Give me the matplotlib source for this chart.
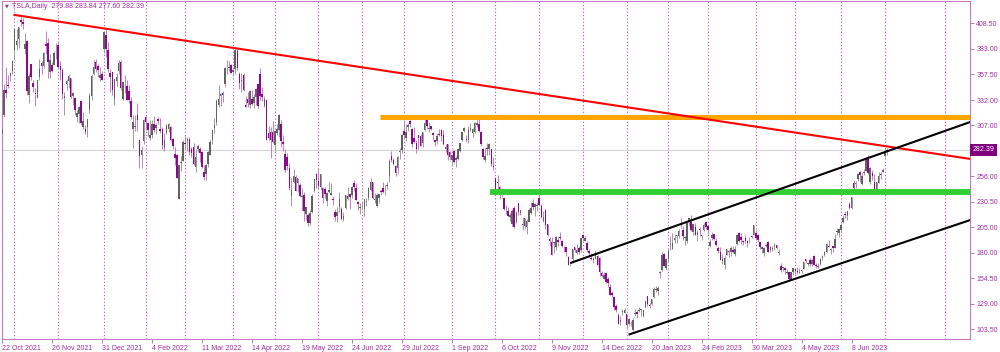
import numpy as np
import matplotlib
matplotlib.use('Agg')
import matplotlib.pyplot as plt
import matplotlib.transforms as mtransforms

# trading bars per month, Oct 2021 (from 22 Oct) .. Jul 2023
month_bars = [6, 21, 22, 20, 19, 23, 20, 21, 21, 20, 23, 21, 21, 21, 21, 20, 19, 23, 19, 22, 21, 2]

opens = [
    298.5, 316.8, 341.6, 346.6, 356.1, 360.6,
    381.7, 386.5, 392.4, 411.5, 409.3, 383.3, 391.2, 336.8, 367.6, 349.2, 339.2, 334.4, 354.5, 368.9, 366.3, 387.4, 389.2, 360.1, 366.5, 367.0, 381.5,
    386.9, 366.4, 361.6, 333.8, 348.1, 350.9, 353.5, 336.3, 333.7, 315.0, 317.7, 331.5, 304.9, 303.6, 305.6, 321.9, 335.6, 357.9, 369.8, 366.2, 353.8, 357.8,
    382.6, 396.5, 382.2, 359.0, 360.1, 333.3, 351.2, 360.7, 369.7, 333.4, 344.0, 346.3, 341.3, 331.2, 302.7, 304.7, 317.5, 291.7, 277.2, 290.9,
    314.6, 309.4, 294.3, 297.0, 307.9, 303.7, 312.8, 302.7, 303.1, 284.4, 299.3, 303.6, 304.7, 293.0, 278.0, 276.8, 233.5, 269.7, 271.7,
    289.3, 290.7, 292.9, 283.0, 285.4, 264.9, 283.1, 283.4, 280.5, 260.2, 258.4, 268.4, 277.7, 292.2, 303.9, 310.1, 326.6, 336.1, 339.2, 347.8, 367.2, 363.9, 367.2,
    360.4, 363.1, 380.5, 357.8, 350.8, 357.3, 326.8, 332.6, 327.1, 333.3, 329.1, 335.5, 347.8, 358.2, 338.3, 326.3, 331.8, 299.5, 299.9, 300.5,
    287.0, 299.3, 302.3, 307.8, 289.7, 278.7, 275.5, 264.2, 236.8, 250.4, 255.3, 249.5, 247.3, 235.3, 237.0, 218.2, 217.8, 209.8, 220.3, 241.7, 257.9,
    251.8, 245.5, 244.4, 243.4, 231.4, 240.4, 237.5, 233.3, 220.0, 216.2, 225.1, 223.6, 213.4, 224.6, 233.8, 237.9, 237.5, 249.4, 244.5, 230.5, 224.5,
    227.0, 223.0, 230.8, 233.9, 242.3, 250.6, 232.8, 226.4, 234.1, 241.2, 244.0, 245.0, 246.8, 255.8, 276.2, 272.2, 266.5, 263.8, 280.7, 282.5,
    301.3, 294.0, 305.0, 311.0, 302.7, 294.3, 289.5, 297.1, 296.5, 289.4, 301.8, 311.7, 303.4, 306.0, 299.0, 291.9, 291.5, 297.6, 302.4, 297.4, 282.8, 287.9, 280.6,
    272.6, 281.1, 272.7, 273.1, 281.3, 291.7, 300.7, 292.9, 292.2, 301.8, 299.6, 300.1, 306.9, 308.3, 299.9, 283.1, 271.8, 283.8, 283.1, 282.8, 266.2,
    254.5, 250.5, 245.0, 239.4, 233.9, 223.9, 221.0, 215.3, 208.3, 224.0, 210.0, 229.5, 219.8, 208.3, 206.4, 205.8, 210.1, 219.4, 229.8, 225.4, 226.2,
    234.0, 226.0, 211.4, 222.6, 208.7, 194.0, 190.8, 189.9, 186.0, 192.8, 195.9, 191.5, 184.0, 185.1, 175.9, 168.6, 173.6, 185.1, 180.0, 185.0, 182.4,
    197.1, 191.8, 189.4, 181.2, 175.0, 172.2, 173.8, 176.1, 174.9, 159.3, 153.4, 159.6, 154.0, 146.1, 139.3, 136.0, 126.4, 117.5, 110.4, 120.4, 120.0,
    118.5, 109.1, 110.5, 103.0, 119.0, 121.1, 122.1, 122.6, 116.6, 125.7, 136.6, 127.3, 128.7, 135.9, 143.0, 141.9, 160.0, 162.4, 178.1, 164.6,
    173.9, 187.3, 184.0, 193.0, 196.4, 196.1, 207.8, 202.2, 194.4, 191.9, 211.8, 210.8, 200.0, 205.0, 197.9, 203.9, 196.3, 202.0, 210.6,
    206.2, 186.7, 194.8, 198.5, 191.4, 185.0, 180.3, 171.2, 167.5, 177.3, 180.8, 180.4, 183.0, 178.1, 188.3, 199.3, 195.3, 191.7, 194.4, 192.0, 193.1, 195.6, 197.5,
    199.9, 197.3, 190.5, 183.1, 179.9, 186.7, 190.7, 183.0, 184.0, 186.3, 187.2, 179.1, 166.2, 164.8, 164.7, 159.8, 160.3, 152.6, 160.9,
    163.2, 161.9, 160.0, 162.7, 164.0, 173.7, 169.0, 172.6, 168.7, 176.1, 167.7, 165.7, 168.4, 174.2, 177.2, 180.7, 186.2, 182.6, 186.5, 184.6, 200.1, 199.8,
    202.6, 210.2, 217.8, 216.1, 228.0, 224.2, 249.1, 247.9, 253.5, 260.2, 248.4, 258.9, 261.5, 275.1, 250.8, 259.3, 250.1, 243.2, 249.7, 258.0, 260.6,
    276.5, 279.88,
]

highs = [
    303.3, 348.3, 365.0, 357.0, 360.3, 371.7,
    403.3, 402.9, 405.1, 414.5, 413.3, 399.0, 391.5, 359.4, 368.3, 351.5, 344.0, 352.4, 373.2, 370.7, 379.6, 400.7, 393.5, 377.6, 369.6, 380.9, 389.3,
    391.0, 371.0, 363.5, 340.5, 352.6, 357.5, 354.2, 340.3, 335.0, 322.1, 326.3, 331.7, 320.2, 307.2, 313.2, 338.6, 357.7, 372.3, 373.0, 368.0, 365.2, 360.7,
    400.4, 403.0, 390.1, 362.7, 360.3, 353.0, 359.0, 371.9, 371.9, 350.7, 356.9, 351.6, 347.2, 334.9, 317.1, 317.1, 329.2, 293.3, 285.8, 312.7,
    315.7, 310.5, 312.3, 312.2, 315.9, 308.8, 315.0, 314.3, 305.0, 299.4, 307.7, 309.5, 306.2, 293.9, 285.6, 278.4, 267.5, 275.9, 292.5,
    296.6, 295.5, 295.5, 285.2, 288.7, 283.3, 288.2, 284.8, 281.4, 267.7, 268.7, 281.2, 291.7, 302.6, 314.3, 332.6, 346.9, 338.9, 340.6, 365.0, 371.6, 371.3, 367.9,
    364.9, 383.3, 384.3, 359.7, 358.9, 359.1, 336.2, 340.4, 342.1, 342.1, 338.3, 344.4, 348.3, 364.1, 344.9, 336.2, 333.3, 306.0, 305.3, 311.5,
    302.1, 308.4, 318.5, 312.1, 296.8, 283.4, 279.0, 269.6, 254.3, 262.9, 257.0, 254.6, 249.5, 243.9, 240.5, 225.4, 219.0, 222.0, 238.4, 253.3, 259.6,
    264.1, 258.7, 245.0, 245.0, 240.7, 249.9, 249.8, 236.2, 223.1, 225.3, 240.4, 225.4, 220.9, 237.7, 245.8, 238.6, 246.1, 252.1, 249.8, 231.2, 229.5,
    230.2, 233.1, 234.6, 245.4, 254.8, 250.6, 239.6, 239.2, 238.7, 243.6, 250.5, 247.1, 250.7, 273.3, 280.8, 274.1, 267.3, 275.9, 284.4, 298.3,
    311.9, 307.8, 309.6, 313.6, 304.6, 305.2, 292.4, 297.5, 298.2, 300.2, 313.1, 314.7, 309.7, 306.5, 300.4, 292.4, 298.8, 303.6, 303.0, 302.0, 287.7, 288.5, 281.3,
    277.6, 282.4, 276.0, 283.8, 289.5, 299.9, 305.5, 297.4, 306.0, 309.1, 303.7, 309.8, 313.8, 313.8, 301.3, 284.5, 284.1, 288.7, 289.0, 283.7, 275.6,
    255.2, 257.5, 246.7, 244.6, 234.6, 227.0, 225.8, 219.3, 223.0, 226.3, 221.9, 229.8, 222.9, 215.5, 214.7, 213.5, 224.4, 230.6, 233.8, 228.9, 229.9,
    237.4, 227.9, 221.2, 223.8, 208.9, 195.2, 195.9, 191.0, 196.5, 195.7, 200.8, 192.6, 186.2, 185.2, 176.8, 170.9, 183.6, 185.2, 188.5, 186.4, 194.8,
    198.9, 196.3, 191.3, 183.7, 179.4, 175.2, 182.5, 177.4, 175.1, 161.6, 160.9, 161.0, 155.3, 148.5, 141.3, 136.6, 128.6, 119.7, 116.3, 123.6, 124.5,
    118.8, 114.6, 111.8, 114.4, 123.5, 122.8, 126.0, 124.1, 122.6, 131.7, 136.7, 130.0, 133.5, 145.4, 146.5, 146.4, 161.4, 180.7, 179.8, 174.3,
    183.8, 196.8, 199.0, 198.2, 197.5, 203.0, 214.0, 206.2, 196.3, 209.8, 214.7, 217.7, 208.4, 209.7, 202.0, 205.1, 197.7, 209.4, 211.2,
    207.2, 193.8, 200.5, 198.6, 194.2, 186.5, 185.2, 178.3, 177.4, 183.8, 182.3, 186.2, 186.4, 186.4, 198.0, 200.7, 199.3, 192.4, 197.4, 192.4, 195.3, 197.3, 207.8,
    202.7, 198.7, 190.7, 186.4, 185.1, 189.2, 191.6, 186.5, 186.3, 189.7, 187.7, 183.5, 169.7, 166.0, 165.7, 163.5, 160.7, 160.5, 165.0,
    163.3, 165.5, 165.0, 163.0, 170.8, 173.8, 169.8, 174.4, 173.6, 177.4, 169.8, 169.5, 174.5, 177.1, 182.0, 189.3, 193.0, 184.2, 186.8, 198.6, 204.5, 204.0,
    209.8, 217.3, 221.3, 221.9, 230.8, 235.2, 252.4, 251.0, 259.7, 261.6, 259.0, 263.6, 274.8, 277.0, 265.0, 262.5, 258.4, 250.4, 259.9, 260.7, 264.5,
    284.3, 283.84,
]

lows = [
    297.0, 314.7, 333.8, 343.6, 351.4, 357.7,
    372.9, 382.0, 384.2, 405.7, 402.7, 377.7, 337.2, 329.1, 351.6, 339.7, 326.2, 334.1, 351.8, 358.3, 364.2, 377.5, 354.2, 354.0, 360.3, 366.7, 372.7,
    363.6, 352.2, 333.4, 316.8, 342.3, 344.3, 334.1, 327.5, 317.1, 310.0, 309.4, 307.3, 303.0, 297.8, 295.4, 319.0, 332.5, 356.9, 359.5, 354.7, 351.1, 351.5,
    378.7, 374.4, 360.3, 340.2, 336.7, 326.7, 346.3, 357.7, 342.2, 332.5, 338.7, 331.7, 329.2, 313.4, 283.8, 301.1, 301.1, 264.0, 264.2, 287.8,
    301.7, 296.5, 291.8, 293.7, 300.1, 298.3, 307.7, 299.6, 283.6, 281.0, 297.8, 300.4, 290.9, 283.0, 267.0, 254.5, 233.0, 260.8, 271.6,
    283.7, 281.4, 277.5, 275.0, 267.4, 260.7, 280.0, 270.1, 264.7, 252.0, 252.2, 264.9, 276.9, 288.5, 299.2, 306.9, 325.4, 326.4, 329.9, 345.4, 357.7, 361.3, 359.1,
    355.5, 357.5, 361.5, 342.6, 340.5, 340.8, 324.9, 325.5, 324.4, 327.4, 324.5, 327.1, 324.3, 332.1, 331.3, 324.7, 291.7, 292.5, 273.9, 289.3,
    281.0, 297.0, 295.1, 285.5, 281.6, 260.7, 262.7, 242.2, 226.7, 249.7, 241.5, 240.6, 235.4, 221.3, 211.0, 212.4, 206.9, 207.7, 219.6, 240.7, 244.6,
    243.7, 242.1, 229.3, 234.3, 226.7, 238.9, 237.4, 227.1, 211.9, 210.7, 220.6, 212.7, 211.2, 223.4, 232.2, 223.9, 233.9, 241.7, 232.5, 222.3, 218.9,
    222.1, 216.2, 226.4, 232.2, 241.1, 233.6, 229.3, 225.2, 229.3, 236.9, 239.6, 236.9, 243.5, 250.5, 270.4, 267.4, 256.3, 258.9, 273.2, 279.1,
    293.8, 291.5, 301.2, 305.0, 285.5, 289.1, 279.4, 283.4, 285.8, 285.0, 301.2, 302.9, 300.0, 301.9, 292.5, 286.3, 287.9, 296.5, 291.6, 287.5, 280.7, 272.7, 271.8,
    266.1, 269.1, 265.7, 272.3, 279.8, 291.3, 300.4, 290.4, 289.3, 300.7, 295.6, 299.6, 305.6, 300.6, 285.8, 272.8, 270.3, 277.5, 277.6, 265.8, 262.5,
    241.0, 242.0, 233.3, 235.4, 222.0, 218.0, 215.0, 211.5, 206.2, 204.2, 209.5, 217.3, 217.8, 202.0, 203.8, 198.6, 210.0, 218.2, 222.9, 216.4, 221.9,
    227.3, 214.8, 210.1, 203.1, 196.7, 186.8, 177.1, 180.0, 182.6, 186.3, 192.1, 185.7, 180.6, 176.6, 167.5, 166.2, 169.9, 180.6, 179.0, 178.8, 180.6,
    191.8, 191.1, 180.6, 175.3, 172.2, 169.1, 173.4, 167.5, 156.9, 155.3, 153.3, 150.0, 145.8, 137.7, 135.9, 122.3, 121.0, 108.8, 108.2, 117.7, 119.8,
    104.6, 107.5, 107.2, 101.8, 117.1, 114.9, 120.5, 117.0, 115.6, 125.0, 127.0, 124.3, 127.4, 134.3, 140.6, 138.1, 154.8, 161.2, 166.5, 162.8,
    169.9, 182.6, 183.7, 189.9, 189.6, 194.3, 204.8, 192.9, 187.6, 189.4, 206.1, 201.8, 197.5, 197.2, 191.8, 196.3, 192.8, 201.3, 203.8,
    198.5, 186.0, 192.9, 192.3, 186.1, 180.0, 172.5, 168.4, 163.9, 177.1, 176.0, 176.1, 179.8, 176.4, 188.0, 191.0, 188.7, 187.2, 189.9, 185.4, 189.4, 194.4, 197.2,
    192.2, 190.3, 183.8, 179.7, 176.1, 185.7, 180.3, 180.9, 182.0, 182.7, 183.6, 177.7, 160.6, 161.3, 158.6, 158.8, 153.1, 152.4, 157.3,
    158.8, 158.9, 159.9, 159.7, 163.5, 169.2, 166.6, 166.7, 166.8, 167.2, 164.6, 164.4, 167.2, 172.5, 176.3, 180.1, 185.3, 178.2, 180.6, 184.5, 197.5, 195.1,
    199.4, 209.8, 214.5, 212.5, 223.2, 223.0, 242.0, 244.6, 251.3, 250.5, 247.3, 257.2, 261.1, 257.8, 248.3, 252.8, 240.7, 240.9, 248.9, 253.6, 259.9,
    275.1, 277.60,
]

closes = [
    303.2, 341.6, 339.5, 346.0, 359.0, 371.3,
    402.9, 390.7, 404.6, 410.0, 407.4, 387.6, 341.2, 356.0, 354.5, 344.5, 337.8, 351.6, 363.0, 365.5, 379.0, 385.6, 369.7, 372.0, 360.6, 379.0, 381.6,
    365.0, 361.5, 338.3, 336.3, 350.6, 356.3, 334.6, 339.0, 322.1, 319.5, 325.3, 309.0, 310.9, 300.0, 312.8, 336.3, 355.7, 364.6, 362.8, 362.0, 356.8, 352.3,
    399.9, 383.2, 362.7, 354.9, 342.3, 352.7, 354.8, 368.7, 343.9, 349.9, 343.5, 331.9, 332.1, 314.6, 310.0, 306.1, 312.5, 276.4, 282.1, 312.2,
    310.4, 301.9, 297.0, 307.8, 302.4, 307.3, 310.7, 301.5, 286.7, 291.9, 307.5, 307.8, 292.1, 285.7, 273.8, 254.7, 266.9, 270.0, 290.1,
    288.1, 293.3, 279.8, 279.4, 268.2, 274.8, 286.3, 279.4, 265.1, 255.5, 267.3, 280.1, 290.5, 301.8, 307.0, 331.3, 333.0, 338.0, 336.9, 364.0, 366.5, 364.7, 359.2,
    361.5, 381.8, 363.8, 348.6, 352.4, 341.8, 325.3, 329.0, 340.8, 328.3, 334.8, 342.7, 325.7, 336.3, 335.0, 332.7, 292.1, 293.8, 292.5, 290.3,
    301.0, 303.1, 317.5, 291.1, 288.6, 262.4, 266.7, 244.7, 242.7, 256.5, 241.5, 253.9, 236.6, 236.5, 221.3, 225.0, 209.4, 219.6, 235.9, 253.2, 252.8,
    246.8, 258.3, 234.5, 238.3, 238.9, 241.9, 239.7, 232.2, 215.7, 220.9, 233.0, 213.1, 216.8, 237.0, 236.1, 235.1, 245.7, 244.9, 232.7, 228.5, 224.5,
    227.3, 233.1, 231.7, 244.5, 250.8, 234.3, 233.1, 237.0, 238.3, 240.1, 240.5, 245.5, 247.5, 271.7, 272.2, 268.4, 258.9, 274.8, 280.9, 297.1,
    297.3, 300.6, 307.4, 308.6, 288.2, 290.4, 283.3, 294.4, 286.6, 300.0, 309.3, 306.6, 304.0, 302.9, 296.7, 289.9, 296.5, 297.1, 296.1, 288.1, 284.8, 277.7, 275.6,
    277.2, 270.2, 274.4, 283.7, 289.3, 299.7, 304.4, 292.1, 302.6, 303.8, 303.4, 309.1, 308.7, 300.8, 288.6, 275.3, 276.0, 282.9, 287.8, 268.2, 265.3,
    242.4, 249.4, 240.8, 238.1, 223.1, 223.0, 216.5, 217.2, 221.7, 205.0, 219.4, 220.2, 222.0, 207.3, 214.4, 211.3, 222.4, 224.6, 225.1, 228.5, 227.5,
    227.8, 215.0, 215.3, 207.5, 197.1, 191.3, 177.6, 190.7, 196.0, 191.0, 194.4, 186.9, 183.2, 180.2, 167.9, 169.9, 183.2, 182.9, 182.9, 180.8, 194.7,
    194.7, 194.9, 182.5, 179.8, 174.0, 173.4, 179.1, 167.8, 161.0, 156.8, 157.7, 150.2, 149.9, 137.8, 137.6, 125.4, 123.2, 109.1, 112.7, 121.8, 123.2,
    108.1, 113.6, 110.3, 113.1, 119.8, 118.9, 123.2, 123.6, 122.4, 131.5, 128.8, 127.2, 133.4, 143.8, 143.9, 144.4, 160.3, 177.9, 166.7, 173.2,
    181.4, 188.3, 190.0, 194.8, 196.8, 201.3, 207.3, 196.9, 194.6, 209.3, 214.2, 202.0, 208.3, 197.4, 200.9, 202.1, 196.9, 207.6, 205.7,
    202.8, 190.9, 197.8, 193.8, 187.7, 182.0, 172.9, 173.4, 174.5, 183.3, 180.5, 184.1, 180.1, 183.3, 197.6, 191.2, 192.2, 190.4, 191.8, 189.2, 193.9, 195.3, 207.5,
    194.8, 192.6, 185.5, 185.1, 184.5, 186.8, 180.5, 185.9, 185.0, 187.0, 184.3, 180.6, 163.0, 165.1, 162.6, 160.7, 153.8, 160.2, 164.3,
    161.8, 160.3, 160.6, 161.2, 170.1, 171.8, 169.2, 168.5, 172.1, 168.0, 166.4, 166.5, 173.9, 176.9, 180.1, 188.9, 185.8, 182.9, 184.5, 193.2, 201.2, 203.9,
    207.5, 214.0, 217.6, 221.3, 224.6, 234.9, 244.4, 249.8, 258.7, 256.8, 255.9, 260.5, 274.5, 259.5, 264.6, 256.6, 241.1, 250.2, 256.2, 257.5, 261.8,
    279.8, 282.39,
]

date_labels = ["22 Oct 2021", "26 Nov 2021", "31 Dec 2021", "4 Feb 2022", "11 Mar 2022", "14 Apr 2022",
               "19 May 2022", "24 Jun 2022", "29 Jul 2022", "1 Sep 2022", "6 Oct 2022", "9 Nov 2022",
               "14 Dec 2022", "20 Jan 2023", "24 Feb 2023", "30 Mar 2023", "4 May 2023", "8 Jun 2023"]
label_every = 24
price_ticks = [103.50, 129.00, 154.50, 180.00, 205.00, 230.50, 256.00, 307.00, 332.00, 357.50, 383.00, 408.50]
future_grid = [453]

# drawn objects (bar index, price)
red_line = [(6.0, 416.8), (465.0, 273.3)]
upper_channel = [(273.4, 169.9), (465.0, 310.1)]
lower_channel = [(301.4, 98.5), (465.0, 212.4)]
orange_level = (181.7, 315.4)
green_level = (234.5, 240.4)
last_price = 282.39
title = "TSLA,Daily  279.88 283.84 277.60 282.39"

n = len(closes)
assert len(opens) == n and len(highs) == n and len(lows) == n and sum(month_bars) == n

plt.rcParams['font.family'] = ['Liberation Sans', 'DejaVu Sans']
txt_col = '#a02ca0'
frame_col = '#c27ac2'

fig = plt.figure(figsize=(10, 3.52), dpi=100)
W, H = 1000, 352
ax = fig.add_axes([2 / W, (H - 339) / H, 968 / W, 338 / H])

x = np.arange(n)
o = np.array(opens); h = np.array(highs); l = np.array(lows); c = np.array(closes)
up = c >= o
lo = np.minimum(o, c)
ht = np.maximum(np.abs(c - o), 0.8)

ax.vlines(x[up], l[up], h[up], color='#a0a0a0', lw=0.75, zorder=2)
ax.vlines(x[~up], l[~up], h[~up], color='#c880c8', lw=0.75, zorder=2)
ax.bar(x[up], ht[up], bottom=lo[up], width=0.75, color='#626262', linewidth=0, zorder=3)
ax.bar(x[~up], ht[~up], bottom=lo[~up], width=0.75, color='#8a0a8a', linewidth=0, zorder=3)

# month separators
starts = np.cumsum([0] + month_bars[:-1])[1:]
for g in list(starts) + future_grid:
    ax.axvline(g, color='#c04cc0', lw=0.8, ls=(0, (1, 2)), zorder=1)

ax.axhline(last_price, color='#d4d4d4', lw=0.8, zorder=1)

ax.plot(*zip(*red_line), color='#ff0000', lw=1.5, zorder=5)
ax.plot(*zip(*upper_channel), color='black', lw=1.5, zorder=5)
ax.plot(*zip(*lower_channel), color='black', lw=1.5, zorder=5)
ax.plot([orange_level[0], 470], [orange_level[1]] * 2, color='#ffa500', lw=3.6, zorder=4, solid_capstyle='butt')
ax.plot([green_level[0], 470], [green_level[1]] * 2, color='#32cd32', lw=4.2, zorder=4, solid_capstyle='butt')

ax.set_xlim(0.24, 464.9)
ax.set_ylim(93.85, 430.7)

for s in ax.spines.values():
    s.set_color(frame_col)
    s.set_linewidth(0.8)

ax.yaxis.tick_right()
ax.set_yticks(price_ticks, [f"{v:.2f}" for v in price_ticks])
ax.tick_params(axis='y', length=3, width=0.7, color=frame_col, labelcolor=txt_col, labelsize=5, pad=1.5)
ax.set_xticks(np.arange(len(date_labels)) * label_every, date_labels, ha='left')
ax.tick_params(axis='x', length=3, width=0.7, color=frame_col, labelcolor=txt_col, labelsize=5, pad=1.5)

tr = mtransforms.blended_transform_factory(ax.transAxes, ax.transData)
ax.text(1.003, last_price, f"{last_price:.2f}", transform=tr, ha='left', va='center', fontsize=5,
        color='white', bbox=dict(boxstyle='square,pad=0.35', facecolor='#800080', edgecolor='none'), zorder=10)

fig.text(5 / W, 1 - 6 / H, "\u25bc", fontsize=3.5, color=txt_col, va='center', ha='left', family=['DejaVu Sans'])
fig.text(12 / W, 1 - 6 / H, title, fontsize=5, color=txt_col, va='center', ha='left')

fig.savefig('out.png', dpi=100)
